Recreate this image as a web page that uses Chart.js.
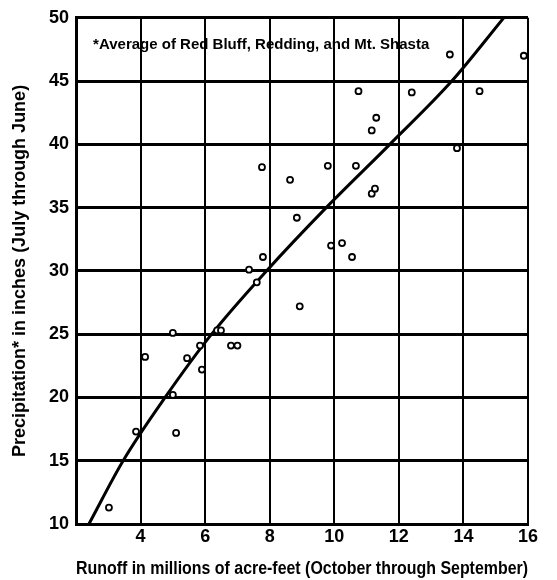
<!DOCTYPE html>
<html>
<head>
<meta charset="utf-8">
<script src="https://cdn.jsdelivr.net/npm/chart.js@4/dist/chart.umd.min.js"></script>
<style>
  html, body { margin: 0; padding: 0; background: #fff; }
  #wrap { width: 557px; height: 580px; }
</style>
</head>
<body>
<div id="wrap"><canvas id="c" width="557" height="580"></canvas></div>
<script>
// Observed points: runoff (millions of acre-feet) vs precipitation (inches)
const runoffValues = [3.02, 3.86, 4.14, 5.0, 5.0, 5.1, 5.44, 5.84, 5.9, 6.37, 6.49, 6.8, 7.0, 7.36, 7.6, 7.76, 7.79, 8.63, 8.84, 8.93, 9.8, 9.9, 10.24, 10.55, 10.67, 10.75, 11.16, 11.16, 11.26, 11.3, 12.4, 13.58, 13.8, 14.5, 15.87];
const precipValues = [11.3, 17.3, 23.2, 25.1, 20.2, 17.2, 23.1, 24.1, 22.2, 25.3, 25.3, 24.1, 24.1, 30.1, 29.1, 38.2, 31.1, 37.2, 34.2, 27.2, 38.3, 32.0, 32.2, 31.1, 38.3, 44.2, 41.1, 36.1, 36.5, 42.1, 44.1, 47.1, 39.7, 44.2, 47.0];

// Fitted curve
const curveRunoff = [2.4, 3.46, 4.76, 6.2, 7.9, 9.75, 11.72, 13.64, 15.25];
const curvePrecip = [10, 15, 20, 25, 30, 35, 40, 45, 50];

// Axis ticks
const xTicks = [2, 4, 6, 8, 10, 12, 14, 16];
const yTicks = [10, 15, 20, 25, 30, 35, 40, 45, 50];

const noteText = '*Average of Red Bluff, Redding, and Mt. Shasta';
const noteAnchor = { x: 2.53, y: 47.9 };

const FONT = "'Liberation Sans', Arial, sans-serif";

const points = runoffValues.map((x, i) => ({ x, y: precipValues[i] }));
const curve = curveRunoff.map((x, i) => ({ x, y: curvePrecip[i] }));

const notePlugin = {
  id: 'note',
  afterDraw(chart) {
    const { ctx, scales } = chart;
    const px = scales.x.getPixelForValue(noteAnchor.x);
    const py = scales.y.getPixelForValue(noteAnchor.y);
    ctx.save();
    ctx.fillStyle = '#000';
    ctx.font = "bold 15px " + FONT;
    ctx.textAlign = 'left';
    ctx.textBaseline = 'middle';
    ctx.fillText(noteText, px, py);
    ctx.restore();
  }
};

new Chart(document.getElementById('c'), {
  type: 'scatter',
  data: {
    datasets: [
      {
        label: 'Observed',
        data: points,
        showLine: false,
        pointRadius: 3,
        pointBorderWidth: 1.8,
        pointBorderColor: '#000',
        pointBackgroundColor: '#fff',
        clip: false,
        order: 1
      },
      {
        label: 'Curve',
        type: 'line',
        data: curve,
        showLine: true,
        borderColor: '#000',
        borderWidth: 3,
        pointRadius: 0,
        fill: false,
        cubicInterpolationMode: 'monotone',
        order: 2
      }
    ]
  },
  options: {
    responsive: false,
    animation: false,
    layout: { padding: { top: 16, right: 29, left: 0, bottom: 0 } },
    plugins: {
      legend: { display: false },
      tooltip: { enabled: false }
    },
    scales: {
      x: {
        type: 'linear',
        min: 2, max: 16,
        afterFit(s) { s.height = 56; },
        afterBuildTicks(s) { s.ticks = xTicks.map(v => ({ value: v })); },
        ticks: {
          color: '#000',
          font: { family: FONT, size: 18, weight: 'bold' },
          padding: 2,
          maxRotation: 0,
          autoSkip: false,
          callback: v => (v === 2 ? '' : String(v))
        },
        grid: { color: '#000', lineWidth: 2, drawTicks: false },
        border: { display: true, color: '#000', width: 3 },
        title: {
          display: true,
          text: 'Runoff in millions of acre-feet (October through September)',
          color: '#000',
          font: { family: FONT, size: 18, weight: 'bold' },
          padding: { top: 0, bottom: 0 }
        }
      },
      y: {
        type: 'linear',
        min: 10, max: 50,
        afterFit(s) { s.width = 76; },
        afterBuildTicks(s) { s.ticks = yTicks.map(v => ({ value: v })); },
        ticks: {
          color: '#000',
          font: { family: FONT, size: 18, weight: 'bold' },
          padding: 7,
          autoSkip: false
        },
        grid: { color: '#000', lineWidth: 3, drawTicks: false },
        border: { display: true, color: '#000', width: 3 },
        title: {
          display: true,
          text: 'Precipitation* in inches (July through June)',
          color: '#000',
          font: { family: FONT, size: 18, weight: 'bold' },
          padding: { top: 9, bottom: 0 }
        }
      }
    }
  },
  plugins: [notePlugin]
});
</script>
</body>
</html>
